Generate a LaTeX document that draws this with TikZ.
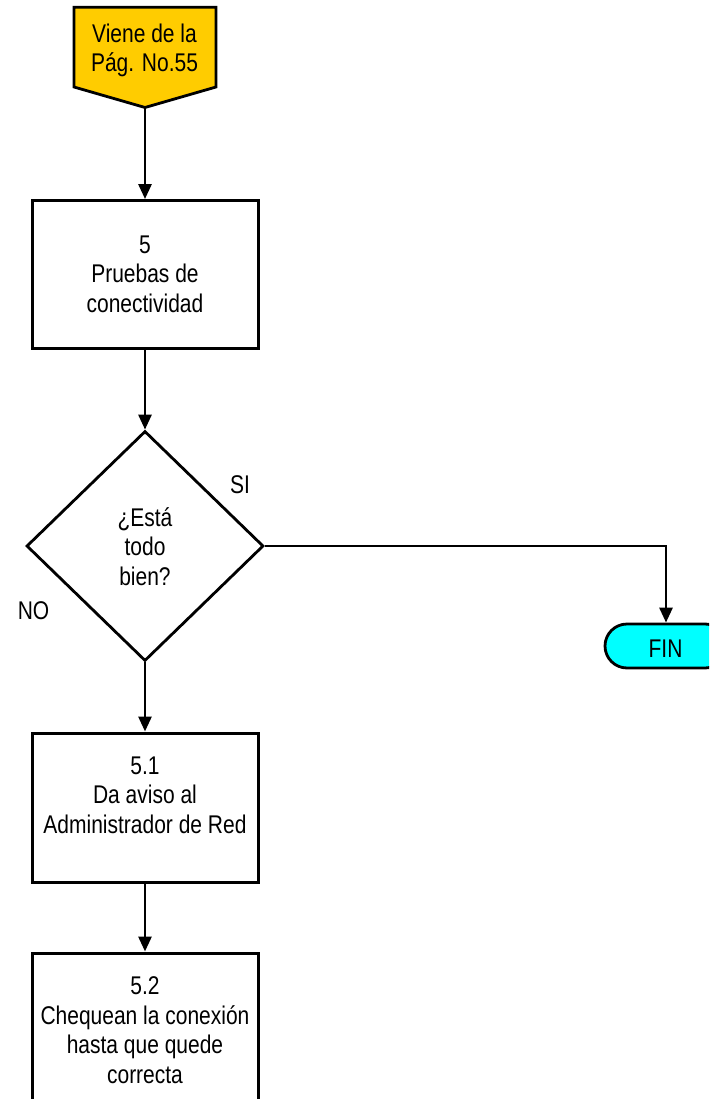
\documentclass[tikz,border=0pt]{standalone}
\usepackage{fontspec}
\setmainfont{Liberation Sans}[FakeStretch=0.82]
\usetikzlibrary{arrows.meta,shapes.geometric}
\definecolor{srcgold}{HTML}{FFCC00}
\definecolor{fincyan}{HTML}{00FFFF}
\begin{document}
\begin{tikzpicture}[x=1pt,y=-1pt,
  every node/.style={font=\fontsize{25.6}{29.5}\selectfont},
  txt/.style={align=center,inner sep=0pt,anchor=base},
  procbox/.style={draw,line width=3pt,minimum width=226pt,inner sep=0pt},
  decision/.style={draw,diamond,line width=2.8pt,minimum width=237pt,minimum height=230pt,inner sep=0pt},
  terminal/.style={draw,line width=2.8pt,fill=fincyan,rounded corners=22pt,minimum width=122pt,minimum height=44pt,inner sep=0pt},
  flow/.style={line width=2.8pt,-{Triangle[length=15pt,width=13pt]}}]
\clip (0,0) rectangle (709,1099);
\fill[white] (0,0) rectangle (709,1099);

% off-page connector at the top
\draw[line width=2.8pt,fill=srcgold,line join=miter]
  (74,7.3) -- (216,7.3) -- (216,87) -- (145,107.5) -- (74,87) -- cycle;
\coordinate (srctip) at (145,107.5);
\node[txt] (src) at (144.5,72) {Viene de la\\Pág. No.55};

% process boxes
\node[procbox,minimum height=147.5pt] (box1) at (145,274.3) {};
\node[txt] (t1) at (145,312) {5\\Pruebas de\\conectividad};

\node[decision] (dia) at (145,546) {};
\node[txt] (td) at (145,585) {¿Está\\todo\\bien?};
\node[txt] (si) at (240,493) {SI};
\node[txt] (no) at (33.5,619) {NO};

\node[procbox,minimum height=149pt] (box2) at (145,807.5) {};
\node[txt] (t2) at (145,833) {5.1\\Da aviso al\\Administrador de Red};

\node[procbox,minimum height=170pt] (box3) at (145,1038) {};
\node[txt] (t3) at (145,1083) {5.2\\Chequean la conexión\\hasta que quede\\correcta};

\node[terminal] (fin) at (666,646) {};
\node[txt] (tf) at (665.5,657) {FIN};

% connectors
\draw[flow] (srctip) -- (box1.north);
\draw[flow] (box1.south) -- (dia.north);
\draw[flow] (dia.south) -- (box2.north);
\draw[flow] (box2.south) -- (box3.north);
\draw[flow] (dia.east) -| (fin.north);
\end{tikzpicture}
\end{document}
